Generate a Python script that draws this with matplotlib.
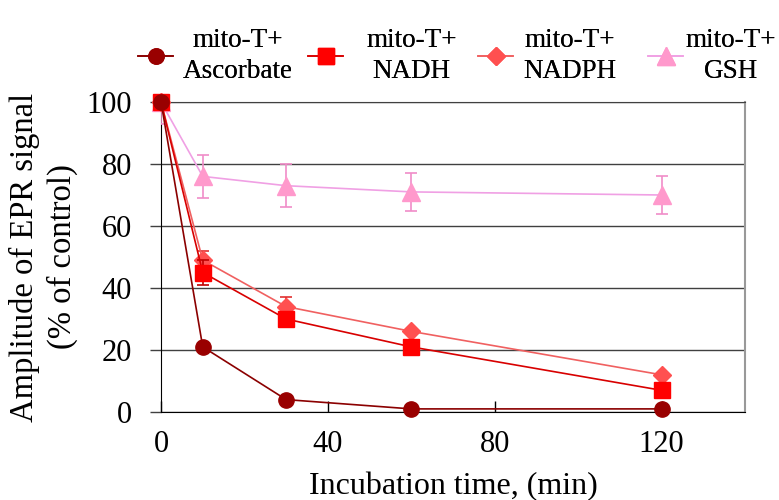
import matplotlib.pyplot as plt

plt.rcParams['font.family'] = ['Liberation Serif', 'DejaVu Serif']

# incubation time points, min
t = [0, 10, 30, 60, 120]

ascorbate = [100, 21, 4, 1, 1]
nadh = [100, 45, 30, 21, 7]
nadph = [100, 49, 34, 26, 12]
gsh = [100, 76, 73, 71, 70]

nadh_err = [0, 4, 2, 0, 0]
nadph_err = [0, 3, 3, 0, 0]
gsh_err = [7, 7, 7, 6, 6]

labels = ['mito-T+\nAscorbate', 'mito-T+\nNADH', 'mito-T+\nNADPH', 'mito-T+\nGSH']

fig = plt.figure(figsize=(7.79, 5), dpi=100)
ax = fig.add_axes([0.2067, 0.176, 0.7497, 0.62])

# error bars stay inside the plot area, markers may spill over the edges
ax.errorbar(t, gsh, yerr=gsh_err, fmt='none', ecolor='#F08CC8', elinewidth=1.2,
            capsize=4.5, capthick=1.2, zorder=3)
ax.errorbar(t, nadph, yerr=nadph_err, fmt='none', ecolor='#E03030', elinewidth=1.2,
            capsize=4.5, capthick=1.2, zorder=4)
ax.errorbar(t, nadh, yerr=nadh_err, fmt='none', ecolor='#C00000', elinewidth=1.2,
            capsize=4.5, capthick=1.2, zorder=5)

h_gsh, = ax.plot(t, gsh, color='#F0A0E4', mfc='#FF99CC', mec='#FF99CC', marker='^',
                 ms=13, lw=1.2, clip_on=False, zorder=3)
h_nadph, = ax.plot(t, nadph, color='#F06060', mfc='#FF5050', mec='#FF5050', marker='D',
                   ms=9, lw=1.2, clip_on=False, zorder=4)
h_nadh, = ax.plot(t, nadh, color='#D80000', mfc='#FF0000', mec='#FF0000', marker='s',
                  ms=12, lw=1.2, clip_on=False, zorder=5)
h_asc, = ax.plot(t, ascorbate, color='#8B0000', mfc='#990000', mec='#990000', marker='o',
                 ms=11, lw=1.2, clip_on=False, zorder=6)

ax.set_xlim(0, 140)
ax.set_ylim(0, 100)
ax.set_xticks([0, 40, 80, 120])
ax.set_yticks([0, 20, 40, 60, 80, 100])
ax.grid(axis='y', color='#404040', lw=1)
ax.set_axisbelow(True)

ax.tick_params(axis='y', direction='out', length=8, width=1, color='#404040',
               labelsize=22, pad=13)
ax.tick_params(axis='x', direction='in', length=8, width=1, labelsize=22, pad=13)

ax.spines['left'].set_color('black')
ax.spines['bottom'].set_color('black')
ax.spines['right'].set_color('#999999')
ax.spines['right'].set_linewidth(1.5)
ax.spines['top'].set_color('#404040')

ax.set_xlabel('Incubation time, (min)', fontsize=23, labelpad=9)
ax.set_ylabel('Amplitude of EPR signal\n(% of control)', fontsize=23.5,
              linespacing=1.3, labelpad=6)

# one legend entry per block across the top
handles = [h_asc, h_nadh, h_nadph, h_gsh]
lefts = [138, 308, 478, 648]
pads = [0.37, 0.85, 0.37, 0.08]
for h, lab, x0, p in zip(handles, labels, lefts, pads):
    leg = fig.legend([h], [lab], loc='center left', bbox_to_anchor=(x0 / 779, 0.888),
                     frameon=False, fontsize=19.5, handlelength=1.3, handletextpad=p,
                     borderpad=0, borderaxespad=0, markerscale=1.0)
    for txt in leg.get_texts():
        txt.set_multialignment('center')
        txt.set_linespacing(1.3)
    fig.add_artist(leg)

fig.savefig('out.png', dpi=100)
